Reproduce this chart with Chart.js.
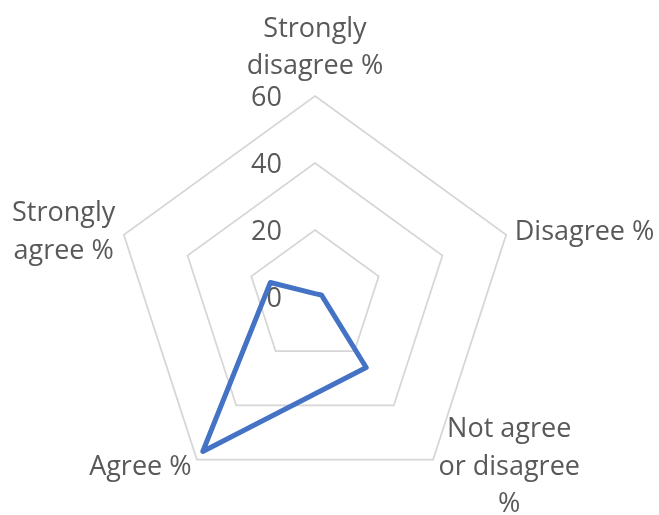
<!DOCTYPE html>
<html>
<head>
<meta charset="utf-8">
<script src="https://cdn.jsdelivr.net/npm/chart.js@4/dist/chart.umd.min.js"></script>
<style>
  html, body { margin: 0; padding: 0; background: #fff; }
  #caja { width: 659px; height: 515px; }
</style>
</head>
<body>
<div id="caja"><canvas id="radarChart"></canvas></div>
<script>
/* ============================
   DATOS
   ============================ */
const categorias = [
  ["Strongly", "disagree %"],
  "Disagree %",
  ["Not agree", "or disagree", "%"],
  "Agree %",
  ["Strongly", "agree %"]
];
const porcentajes = [1, 2, 26, 57, 14];
const marcasEje = [0, 20, 40, 60];

/* ESTILO */
const COLOR_TEXTO = "#595959";
const FUENTE = "27px 'Open Sans'";
const ALTO_LINEA = 37.5;

/* Etiquetas de ejes y números de la escala, dibujadas a mano
   para colocarlas como en Excel (centradas por bloque) */
const etiquetasRadar = {
  id: "etiquetasRadar",
  beforeDatasetsDraw(chart) {
    const scale = chart.scales.r;
    const ctx = chart.ctx;
    const cx = scale.xCenter;
    const cy = scale.yCenter;

    ctx.save();
    ctx.font = FUENTE;
    ctx.fillStyle = COLOR_TEXTO;

    // números de la escala, a la izquierda del eje vertical
    ctx.textAlign = "right";
    ctx.textBaseline = "alphabetic";
    scale.ticks.forEach(t => {
      if (!marcasEje.includes(t.value)) return;
      const d = scale.getDistanceFromCenterForValue(t.value);
      ctx.fillText(String(t.value), cx - 33, cy - d + 9.5);
    });

    // nombres de las categorías
    ctx.textAlign = "center";
    categorias.forEach((cat, i) => {
      const lineas = Array.isArray(cat) ? cat : [cat];
      const p = scale.getPointPosition(i, scale.drawingArea + 9);
      const ancho = Math.max(...lineas.map(l => ctx.measureText(l).width));

      let centroX = p.x;
      if (p.x > cx + 1) centroX = p.x + ancho / 2;
      else if (p.x < cx - 1) centroX = p.x - ancho / 2;

      let primeraBase;
      if (Math.abs(p.x - cx) < 1 && p.y < cy) {
        // arriba: el bloque termina encima del vértice
        primeraBase = p.y - 13 - (lineas.length - 1) * ALTO_LINEA;
      } else {
        primeraBase = p.y + 8 - (lineas.length - 1) * ALTO_LINEA / 2;
      }

      lineas.forEach((l, k) => {
        ctx.fillText(l, centroX, primeraBase + k * ALTO_LINEA);
      });
    });
    ctx.restore();
  }
};

/* CHART */
const ctx = document.getElementById("radarChart").getContext("2d");
new Chart(ctx, {
  type: "radar",
  data: {
    labels: categorias,
    datasets: [{
      label: "Porcentaje",
      data: porcentajes,
      borderColor: "#4472C4",
      borderWidth: 5,
      borderJoinStyle: "round",
      backgroundColor: "transparent",
      fill: false,
      pointRadius: 0,
      pointHoverRadius: 0
    }]
  },
  options: {
    responsive: true,
    maintainAspectRatio: false,
    animation: false,
    layout: { padding: { top: 96, bottom: 17, left: 114, right: 143 } },
    plugins: {
      legend: { display: false },
      tooltip: { enabled: false }
    },
    scales: {
      r: {
        min: 0,
        max: 60,
        ticks: { stepSize: 20, display: false },
        angleLines: { display: false },
        grid: { color: "#d6d6d6", lineWidth: 1.75 },
        pointLabels: { display: false }
      }
    }
  },
  plugins: [etiquetasRadar]
});
</script>
</body>
</html>
